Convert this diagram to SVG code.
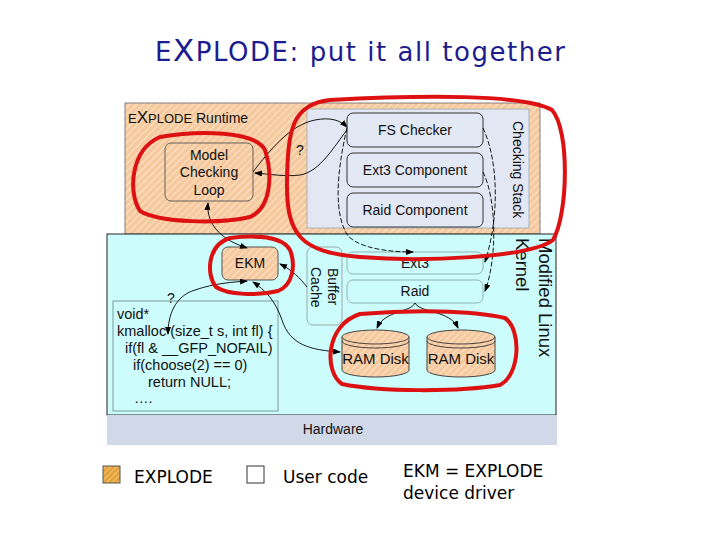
<svg xmlns="http://www.w3.org/2000/svg" width="720" height="540" viewBox="0 0 720 540">
<defs>
<pattern id="hatch" width="5" height="5" patternUnits="userSpaceOnUse" patternTransform="rotate(45)">
<rect width="5" height="5" fill="#f6c99e"/>
<line x1="0" y1="0" x2="0" y2="5" stroke="#fde7d2" stroke-width="1.8"/>
</pattern>
<pattern id="hatch2" width="4" height="4" patternUnits="userSpaceOnUse" patternTransform="rotate(45)">
<rect width="4" height="4" fill="#e4a23a"/>
<line x1="0" y1="0" x2="0" y2="4" stroke="#f7d58c" stroke-width="1.4"/>
</pattern>
<marker id="arr" markerWidth="8" markerHeight="6" refX="7" refY="3" orient="auto-start-reverse" markerUnits="userSpaceOnUse">
<path d="M0,0 L8,3 L0,6 Z" fill="#000"/>
</marker>
</defs>
<style>
.sans{font-family:"Liberation Sans",Arial,sans-serif;fill:#111}
.ver{font-family:"DejaVu Sans",Verdana,sans-serif;fill:#000}
.comp{fill:#e3e8f5;stroke:#333;stroke-width:1}
.kbox{fill:none;stroke:#8fb3b3;stroke-width:1}
.conn{fill:none;stroke:#000;stroke-width:0.9}
.dash{stroke-dasharray:5 2}
.red{fill:none;stroke:#dd1111;stroke-width:4;stroke-linejoin:round}
</style>
<rect width="720" height="540" fill="#fff"/>

<g id="title">
<text x="155" y="61" font-family="'DejaVu Sans',sans-serif" font-size="26" fill="#1c1c8e" textLength="410" lengthAdjust="spacing">E<tspan font-size="31">X</tspan>PLODE: put it all together</text>
</g>

<g id="runtime">
<rect x="125" y="103" width="415" height="131" fill="url(#hatch)" stroke="#666" stroke-width="0.8"/>
<text x="128" y="123" class="sans" font-size="13">E<tspan font-size="17">X</tspan>PLODE<tspan font-size="14"> Runtime</tspan></text>
</g>

<g id="checking-stack">
<rect x="307" y="109" width="222" height="119" fill="#e3e7f3" stroke="#9aa" stroke-width="0.8"/>
<text transform="translate(513,121) rotate(90)" class="sans" font-size="14">Checking Stack</text>
</g>
<g id="fs-checker">
<rect x="347" y="113" width="136" height="34" rx="6" class="comp"/>
<text x="415" y="135" class="sans" font-size="14" text-anchor="middle">FS Checker</text>
</g>
<g id="ext3-component">
<rect x="347" y="153" width="136" height="34" rx="6" class="comp"/>
<text x="415" y="175" class="sans" font-size="14" text-anchor="middle">Ext3 Component</text>
</g>
<g id="raid-component">
<rect x="347" y="193" width="136" height="34" rx="6" class="comp"/>
<text x="415" y="215" class="sans" font-size="14" text-anchor="middle">Raid Component</text>
</g>

<g id="model-checking-loop">
<rect x="165" y="143" width="88" height="58" rx="6" fill="url(#hatch)" stroke="#555" stroke-width="0.9"/>
<text x="209" y="160" class="sans" font-size="14" text-anchor="middle">Model</text>
<text x="209" y="177" class="sans" font-size="14" text-anchor="middle">Checking</text>
<text x="209" y="195" class="sans" font-size="14" text-anchor="middle">Loop</text>
</g>

<g id="linux-kernel">
<rect x="107" y="234" width="449" height="181" fill="#cdfcfc" stroke="#222" stroke-width="1"/>
<text transform="translate(539,238) rotate(90)" class="sans" font-size="18.5">Modified Linux</text>
<text transform="translate(516,238) rotate(90)" class="sans" font-size="18.5">Kernel</text>
</g>

<g id="hardware">
<rect x="107" y="415" width="450" height="30" fill="#d1d9e9"/>
<text x="333" y="434" class="sans" font-size="14" text-anchor="middle">Hardware</text>
</g>

<g id="ekm">
<rect x="222" y="247" width="56" height="33" rx="6" fill="url(#hatch)" stroke="#444" stroke-width="0.9"/>
<text x="250" y="268" class="sans" font-size="14" text-anchor="middle">EKM</text>
</g>

<g id="buffer-cache">
<rect x="307" y="247" width="35" height="78" rx="6" fill="none" stroke="#9aa" stroke-width="1"/>
<text transform="translate(328,268) rotate(90)" class="sans" font-size="14">Buffer</text>
<text transform="translate(311,267) rotate(90)" class="sans" font-size="14">Cache</text>
</g>

<g id="ext3">
<rect x="347" y="252" width="136" height="22" rx="6" class="kbox"/>
<text x="415" y="268" class="sans" font-size="14" text-anchor="middle">Ext3</text>
</g>
<g id="raid">
<rect x="347" y="280" width="136" height="23" rx="6" class="kbox"/>
<text x="415" y="296" class="sans" font-size="14" text-anchor="middle">Raid</text>
</g>

<g id="ramdisk1">
<path d="M342,337 L342,370 A33.5,7 0 0 0 409,370 L409,337 Z" fill="url(#hatch)" stroke="#333" stroke-width="0.9"/>
<ellipse cx="375.5" cy="337" rx="33.5" ry="7" fill="url(#hatch)" stroke="#333" stroke-width="0.9"/>
<path d="M342,341 A33.5,7 0 0 0 409,341" fill="none" stroke="#333" stroke-width="0.9"/>
<text x="375.5" y="364" class="sans" font-size="15" text-anchor="middle">RAM Disk</text>
</g>
<g id="ramdisk2">
<path d="M427,337 L427,370 A34,7 0 0 0 495,370 L495,337 Z" fill="url(#hatch)" stroke="#333" stroke-width="0.9"/>
<ellipse cx="461" cy="337" rx="34" ry="7" fill="url(#hatch)" stroke="#333" stroke-width="0.9"/>
<path d="M427,341 A34,7 0 0 0 495,341" fill="none" stroke="#333" stroke-width="0.9"/>
<text x="461" y="364" class="sans" font-size="15" text-anchor="middle">RAM Disk</text>
</g>

<g id="code">
<rect x="113" y="301" width="165" height="110" fill="none" stroke="#7a9a9a" stroke-width="1"/>
<text class="sans" font-size="14.5">
<tspan x="117" y="319">void*</tspan>
<tspan x="117" y="336">kmalloc (size_t s, int fl) {</tspan>
<tspan x="125" y="353">if(fl &amp; __GFP_NOFAIL)</tspan>
<tspan x="133" y="370">if(choose(2) == 0)</tspan>
<tspan x="148" y="387">return NULL;</tspan>
<tspan x="134" y="403">….</tspan>
</text>
</g>

<g id="connectors">
<path class="conn" d="M253,172 C270,150 290,125 315,120 C330,117 340,120 347,127" marker-end="url(#arr)"/>
<path class="conn" d="M347,130 C335,145 320,172 300,175 C285,177 270,174 255,173" marker-end="url(#arr)"/>
<text x="300" y="155" class="sans" font-size="14" text-anchor="middle">?</text>
<path class="conn" d="M208,203 C206,225 222,240 247,248" marker-start="url(#arr)" marker-end="url(#arr)"/>
<path class="conn" d="M307,287 C300,278 292,270 280,264" marker-end="url(#arr)"/>
<path class="conn" d="M253,282 C265,290 275,300 282,320 C290,345 310,350 340,352" marker-start="url(#arr)" marker-end="url(#arr)"/>
<path class="conn" d="M168,334 C168,315 175,296 195,290 C215,283 235,282 247,281" marker-start="url(#arr)" marker-end="url(#arr)"/>
<text x="171" y="303" class="sans" font-size="14" text-anchor="middle">?</text>
<path class="conn dash" d="M347,128 C336,175 334,215 348,236 C362,250 395,252 413,252" marker-end="url(#arr)"/>
<path class="conn dash" d="M483,128 C498,160 500,215 485,262" marker-end="url(#arr)"/>
<path class="conn dash" d="M483,172 C497,200 497,260 485,291" marker-end="url(#arr)"/>
<path class="conn" d="M415,303 C410,313 385,310 377,328" marker-end="url(#arr)"/>
<path class="conn" d="M415,303 C420,313 450,310 458,328" marker-end="url(#arr)"/>
</g>

<g id="highlights">
<path class="red" d="M160,137 C200,130 255,131 265,150 C273,175 271,208 250,217 C220,224 160,223 140,211 C128,193 130,150 160,137 Z"/>
<path class="red" d="M330,100 C420,95 525,94 552,110 C570,130 568,215 553,240 C530,258 420,262 360,257 C300,252 286,235 287,180 C288,130 292,104 330,100 Z"/>
<path class="red" d="M230,238 C255,235 282,236 290,250 C296,265 293,285 278,291 C258,296 228,295 216,287 C206,275 207,245 230,238 Z"/>
<path class="red" d="M360,314 C410,310 470,310 505,318 C522,330 520,375 500,385 C460,392 380,392 342,384 C324,372 325,325 360,314 Z"/>
</g>

<g id="legend">
<rect x="103" y="466" width="17" height="17" fill="url(#hatch2)" stroke="#555" stroke-width="1"/>
<text x="134" y="483" class="ver" font-size="17">EXPLODE</text>
<rect x="247" y="466" width="17" height="17" fill="#fff" stroke="#333" stroke-width="1"/>
<text x="283" y="483" class="ver" font-size="17">User code</text>
<text x="403" y="477" class="ver" font-size="17">EKM = EXPLODE</text>
<text x="403" y="499" class="ver" font-size="17">device driver</text>
</g>
</svg>
